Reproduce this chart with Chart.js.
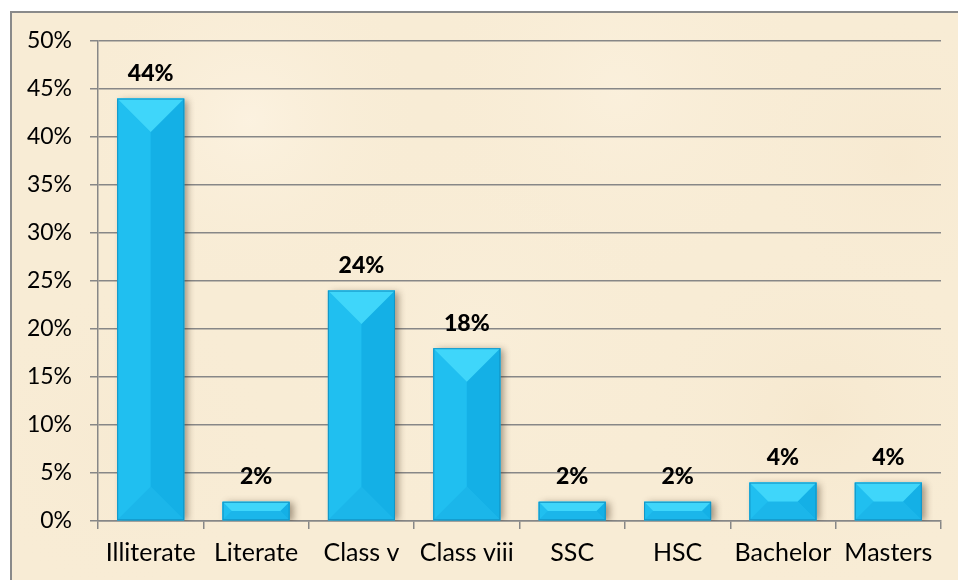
<!DOCTYPE html>
<html>
<head>
<meta charset="utf-8">
<script src="https://cdn.jsdelivr.net/npm/chart.js@4/dist/chart.umd.min.js"></script>
<style>
html,body{margin:0;padding:0;background:#fff;}
#c{display:block;}
</style>
</head>
<body>
<canvas id="c" width="958" height="580"></canvas>
<script>
const categories = ["Illiterate","Literate","Class v","Class viii","SSC","HSC","Bachelor","Masters"];
const values = [44, 2, 24, 18, 2, 2, 4, 4];
const yTicks = [0,5,10,15,20,25,30,35,40,45,50];

const bgPlugin = {
  id: 'bg',
  beforeDraw(chart) {
    const ctx = chart.ctx;
    ctx.save();
    ctx.fillStyle = '#ffffff';
    ctx.fillRect(0, 0, chart.width, chart.height);
    ctx.fillStyle = '#f8ecd5';
    ctx.fillRect(10, 11, chart.width - 10, chart.height - 11);
    const blobs = [[250,120,180,'rgba(253,244,228,0.7)'],[620,90,200,'rgba(252,242,224,0.6)'],[480,330,220,'rgba(250,240,220,0.5)'],[820,420,180,'rgba(244,228,200,0.5)'],[120,440,160,'rgba(246,232,208,0.5)'],[900,160,150,'rgba(246,230,204,0.45)']];
    blobs.forEach(([x,y,r,c]) => {
      const g = ctx.createRadialGradient(x,y,0,x,y,r);
      g.addColorStop(0, c);
      g.addColorStop(1, 'rgba(248,236,213,0)');
      ctx.fillStyle = g;
      ctx.fillRect(10, 11, chart.width - 10, chart.height - 11);
    });
    ctx.strokeStyle = '#8a8a8a';
    ctx.lineWidth = 2;
    ctx.beginPath();
    ctx.moveTo(11, chart.height + 2);
    ctx.lineTo(11, 12);
    ctx.lineTo(chart.width + 2, 12);
    ctx.stroke();
    ctx.restore();
  }
};

const shadowPlugin = {
  id: 'shadow',
  beforeDatasetDraw(chart) {
    const ctx = chart.ctx;
    ctx.save();
    ctx.shadowColor = 'rgba(60,40,20,0.45)';
    ctx.shadowOffsetX = 4;
    ctx.shadowOffsetY = 1;
    ctx.shadowBlur = 7;
  },
  afterDatasetDraw(chart) {
    chart.ctx.restore();
  }
};

const bevelPlugin = {
  id: 'bevel',
  afterDatasetsDraw(chart) {
    const ctx = chart.ctx;
    const meta = chart.getDatasetMeta(0);
    ctx.save();
    meta.data.forEach((bar, i) => {
      const w = bar.width;
      const l = bar.x - w / 2, r = bar.x + w / 2;
      const t = bar.y, bot = bar.base;
      const h = bot - t;
      const b = Math.min(w / 2, h / 2);
      const poly = (pts, col) => {
        ctx.beginPath();
        ctx.moveTo(pts[0][0], pts[0][1]);
        for (let k = 1; k < pts.length; k++) ctx.lineTo(pts[k][0], pts[k][1]);
        ctx.closePath();
        ctx.fillStyle = col;
        ctx.fill();
      };
      poly([[l,t],[r,t],[r,bot],[l,bot]], '#1ebcee');
      poly([[l,t],[l+b,t+b],[l+b,bot-b],[l,bot]], '#20bff0');
      poly([[r,t],[r-b,t+b],[r-b,bot-b],[r,bot]], '#14b0e6');
      poly([[l,bot],[r,bot],[r-b,bot-b],[l+b,bot-b]], '#1bb6ea');
      poly([[l,t],[r,t],[r-b,t+b],[l+b,t+b]], '#3fd6fa');
      ctx.strokeStyle = '#1395c6';
      ctx.lineWidth = 1;
      ctx.strokeRect(l + 0.5, t + 0.5, w - 1, h - 1);
    });
    ctx.restore();
  }
};

const labelPlugin = {
  id: 'vlabels',
  afterDatasetsDraw(chart) {
    const ctx = chart.ctx;
    const meta = chart.getDatasetMeta(0);
    ctx.save();
    ctx.font = '900 23px Lato';
    ctx.fillStyle = '#000';
    ctx.textAlign = 'center';
    ctx.textBaseline = 'middle';
    meta.data.forEach((bar, i) => {
      ctx.fillText(values[i] + '%', bar.x, bar.y - 25);
    });
    ctx.restore();
  }
};

new Chart(document.getElementById('c'), {
  type: 'bar',
  data: {
    labels: categories,
    datasets: [{
      data: values,
      backgroundColor: '#1ebcee',
      borderWidth: 0,
      categoryPercentage: 1,
      barPercentage: 0.636
    }]
  },
  options: {
    responsive: false,
    devicePixelRatio: 1,
    animation: false,
    events: [],
    layout: { padding: { top: 41, right: 17, bottom: 0, left: 0 } },
    plugins: { legend: { display: false }, tooltip: { enabled: false } },
    scales: {
      x: {
        grid: { display: true, drawOnChartArea: false, drawTicks: true, tickLength: 8, color: '#878787', lineWidth: 1.5, offset: true },
        border: { display: true, color: '#878787', width: 1.5 },
        ticks: { color: '#000', font: { family: 'Lato', size: 25 }, padding: 9, maxRotation: 0, autoSkip: false },
        afterFit(s) { s.height = 59; }
      },
      y: {
        min: 0, max: 50,
        afterBuildTicks(s) { s.ticks = yTicks.map(v => ({ value: v })); },
        grid: { color: '#878787', lineWidth: 1.5, tickLength: 8 },
        border: { display: true, color: '#878787', width: 1.5 },
        ticks: { color: '#000', font: { family: 'Lato', size: 23 }, padding: 18, callback: v => v + '%' },
        afterFit(s) { s.width = 98; }
      }
    }
  },
  plugins: [bgPlugin, shadowPlugin, bevelPlugin, labelPlugin]
});
</script>
</body>
</html>
